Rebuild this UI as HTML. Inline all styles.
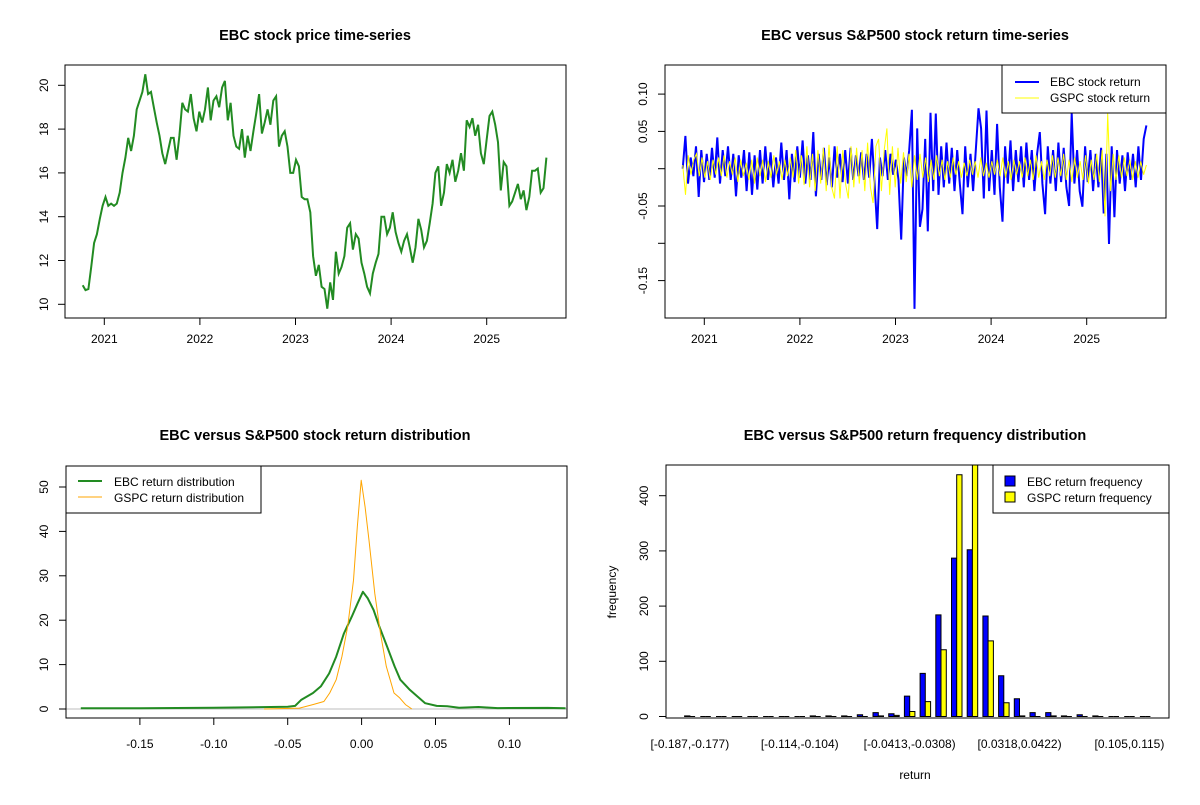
<!DOCTYPE html>
<html><head><meta charset="utf-8"><style>
body{margin:0;background:#fff}
svg text{font-family:"Liberation Sans",Arial,sans-serif}
.t{font-weight:bold;font-size:14.5px}
.k{font-size:12px}
</style></head><body>
<svg id="s" width="1200" height="800" xmlns="http://www.w3.org/2000/svg">
<rect width="1200" height="800" fill="#fff"/>
</svg>
<script>
// ---- data ----
const priceStart = 2020.774, priceEnd = 2025.624;
const priceValues = [10.87,10.65,10.7,11.7,12.8,13.2,13.9,14.5,14.9,14.5,14.6,14.5,14.6,15.1,16.0,16.7,17.6,17.0,17.7,18.9,19.3,19.7,20.5,19.6,19.7,19.0,18.3,17.7,16.9,16.4,17.0,17.6,17.6,16.6,17.7,19.2,18.9,18.8,19.6,18.5,17.9,18.8,18.3,18.9,19.9,18.4,19.3,19.5,19.0,19.9,20.2,18.4,19.2,17.7,17.2,17.1,18.0,16.7,17.7,17.0,17.9,18.7,19.6,17.8,18.3,18.9,18.2,19.3,19.5,17.2,17.7,17.9,17.2,16.0,16.0,16.6,16.3,14.9,14.8,14.8,14.2,12.2,11.3,11.8,10.8,10.7,9.8,11.0,10.2,12.4,11.4,11.7,12.2,13.5,13.7,12.5,13.2,13.0,11.9,11.4,10.8,10.5,11.4,11.9,12.3,14.0,14.0,13.2,13.5,14.2,13.3,12.8,12.4,12.9,13.2,12.6,11.9,12.6,13.9,13.4,12.6,12.9,13.7,14.6,16.0,16.3,14.5,15.1,16.4,16.0,16.6,15.6,16.1,16.9,16.1,18.4,18.1,18.5,17.7,18.2,16.9,16.4,17.5,18.6,18.8,18.2,17.4,15.2,16.5,16.3,14.5,14.7,15.1,15.5,14.8,15.2,14.3,14.9,16.1,16.1,16.2,15.1,15.3,16.7];
const priceYearTicks = [2021,2022,2023,2024,2025];
const priceYTicks = [10,12,14,16,18,20];

const retStart = 2020.774, retEnd = 2025.624;
const ebcReturns = [0.000,0.044,-0.020,0.015,-0.010,0.030,-0.038,0.025,-0.018,0.020,-0.015,0.028,-0.012,0.042,-0.020,0.025,-0.010,0.030,-0.015,0.020,-0.037,0.018,-0.012,0.025,-0.030,0.022,-0.035,0.018,-0.028,0.025,-0.020,0.030,-0.015,0.022,-0.025,0.015,-0.020,0.035,-0.015,0.025,-0.041,0.020,-0.018,0.030,-0.012,0.038,-0.020,0.018,-0.015,0.049,-0.037,0.020,-0.015,0.028,-0.022,0.015,-0.025,0.030,-0.012,0.020,-0.018,0.025,-0.020,0.028,-0.015,0.018,-0.010,0.022,-0.015,0.020,-0.012,0.040,-0.020,-0.081,0.015,-0.010,0.025,-0.015,0.020,-0.008,0.012,-0.015,-0.095,0.015,-0.010,0.025,0.079,-0.188,0.054,-0.078,-0.054,0.040,-0.084,0.075,-0.030,0.074,-0.035,0.030,-0.025,0.035,-0.020,0.028,-0.030,0.025,-0.020,-0.061,0.030,-0.025,0.020,-0.030,0.025,0.081,0.054,-0.040,0.078,-0.030,0.025,-0.035,0.060,-0.025,-0.071,0.030,-0.020,0.038,-0.030,0.025,-0.018,0.030,-0.025,0.035,-0.015,0.025,-0.030,0.020,0.049,-0.020,-0.061,0.030,-0.020,0.025,-0.030,0.035,-0.018,0.028,-0.025,-0.050,0.074,-0.020,0.025,-0.030,-0.051,0.030,-0.018,0.025,-0.030,0.020,-0.025,0.028,-0.060,0.020,-0.101,0.030,-0.065,0.025,-0.020,0.018,-0.030,0.022,-0.015,0.020,-0.025,0.030,-0.015,0.040,0.058];
const gspcReturns = [0.005,-0.035,0.018,-0.008,0.012,0.020,-0.010,0.015,-0.012,0.010,-0.015,0.012,-0.008,0.015,-0.010,0.018,-0.012,0.010,-0.008,0.015,-0.018,0.012,-0.010,0.008,-0.015,0.012,-0.020,0.015,-0.010,0.012,-0.018,0.010,-0.012,0.018,-0.008,0.010,-0.015,0.012,-0.010,0.015,-0.012,0.025,-0.020,0.018,-0.022,0.030,-0.025,0.020,-0.030,0.025,-0.020,0.028,-0.030,0.032,-0.025,-0.040,0.030,-0.040,0.025,-0.020,-0.040,0.030,-0.025,0.028,-0.020,0.025,-0.030,0.035,-0.025,-0.046,0.030,0.040,-0.030,0.025,0.054,-0.035,0.030,-0.025,0.028,-0.020,0.022,-0.018,0.020,-0.025,0.018,-0.015,0.020,-0.012,0.015,-0.018,0.012,-0.015,0.018,-0.010,0.012,-0.015,0.010,-0.012,0.015,-0.008,0.010,-0.012,0.008,-0.010,0.012,-0.008,0.010,-0.012,0.015,-0.010,0.008,-0.012,0.010,-0.008,0.012,-0.010,0.015,-0.012,0.010,-0.015,0.012,-0.008,0.010,-0.012,0.015,-0.010,0.012,-0.015,0.018,-0.012,0.010,-0.015,0.012,-0.010,0.018,-0.012,0.015,-0.010,0.020,-0.015,0.012,-0.018,0.015,-0.012,0.010,-0.015,0.018,-0.020,0.012,-0.015,0.020,-0.018,0.025,-0.064,0.074,-0.030,0.020,-0.015,0.018,-0.012,0.015,-0.010,0.012,-0.015,0.010,-0.012,0.010,-0.008,0.005];
const retYTicks = [0.10,0.05,0,-0.05,-0.10,-0.15];
const retYLabels = ["0.10","0.05","","-0.05","","-0.15"];

const ebcDensX = [-0.19,-0.15,-0.10,-0.05,-0.045,-0.0407,-0.0329,-0.0276,-0.022,-0.0172,-0.012,-0.0066,-0.0027,0.0009,0.0042,0.0081,0.012,0.0172,0.0223,0.0262,0.0327,0.0379,0.043,0.0508,0.058,0.066,0.079,0.092,0.126,0.138];
const ebcDensY = [0.15,0.15,0.3,0.5,0.7,2.1,3.6,5.1,8,11.8,17,20.8,23.8,26.4,24.9,22.3,18.6,14.1,9.6,6.6,4.3,2.8,1.3,0.7,0.6,0.3,0.45,0.2,0.25,0.15];
const gspcDensX = [-0.066,-0.042,-0.033,-0.0255,-0.0216,-0.0172,-0.0133,-0.0094,-0.0055,-0.0029,-0.0003,0.0024,0.005,0.0089,0.0128,0.0167,0.0219,0.0258,0.0297,0.034];
const gspcDensY = [0,0.2,1,1.7,3.6,6.6,11.8,18.6,29,41,51.5,45.5,38,26,17,9.6,3.6,2.5,1,0];
const densXTicks = [-0.15,-0.10,-0.05,0.00,0.05,0.10];
const densXLabels = ["-0.15","-0.10","-0.05","0.00","0.05","0.10"];
const densYTicks = [0,10,20,30,40,50];

const binLabels = ["[-0.187,-0.177)","","","","","","","[-0.114,-0.104)","","","","","","","[-0.0413,-0.0308)","","","","","","","[0.0318,0.0422)","","","","","","","[0.105,0.115)",""];
const ebcFreq = [1,0,0,0,0,0,0,0,1,1,1,3,7,5,37,78,184,287,302,182,74,32,7,7,1,3,1,0,0,0];
const gspcFreq = [0,0,0,0,0,0,0,0,0,0,0,0,1,2,9,27,121,438,470,137,25,1,0,1,0,0,0,0,0,0];
const freqYTicks = [0,100,200,300,400];

// ---- helpers ----
const S = document.getElementById('s');
const NS = 'http://www.w3.org/2000/svg';
function el(tag, attrs, parent){const e=document.createElementNS(NS,tag);for(const k in attrs)e.setAttribute(k,attrs[k]);(parent||S).appendChild(e);return e;}
function txt(str, x, y, cls, anchor, rot){const e=el('text',{x:x,y:y,'class':cls,'text-anchor':anchor||'middle'});if(rot)e.setAttribute('transform','rotate(-90 '+x+' '+y+')');e.textContent=str;return e;}
function lin(d0,d1,r0,r1){return v=>r0+(v-d0)/(d1-d0)*(r1-r0);}
function clip(id,x,y,w,h){const c=el('clipPath',{id:id});el('rect',{x:x,y:y,width:w,height:h},c);}
function box(x0,y0,x1,y1,name){const b=el('rect',{x:x0,y:y0,width:x1-x0,height:y1-y0,fill:'none',stroke:'#000','stroke-width':1});}

// ===== Panel 1: price =====
(function(){
  const L=65,R=566,T=65,B=318;
  const x=lin(2021,2022,104.3,199.9), y=lin(10,20,304.3,85.3);
  clip('c1',L,T,R-L,B-T);
  const n=priceValues.length;
  const pts=priceValues.map((v,i)=>x(priceStart+(priceEnd-priceStart)*i/(n-1)).toFixed(1)+','+y(v).toFixed(1)).join(' ');
  const p=el('polyline',{points:pts,fill:'none',stroke:'#228B22','stroke-width':2,'clip-path':'url(#c1)'});
  
  
  box(L,T,R,B,'price-plot-frame');
  priceYearTicks.forEach(t=>{el('line',{x1:x(t),x2:x(t),y1:B,y2:B+7,stroke:'#000'});const e=txt(String(t),x(t),343,'k');});
  priceYTicks.forEach(t=>{el('line',{x1:L,x2:L-7,y1:y(t),y2:y(t),stroke:'#000'});const e=txt(String(t),48,y(t),'k','middle',true);});
  const ti=txt('EBC stock price time-series',315,40,'t');
  
  
})();

// ===== Panel 2: returns =====
(function(){
  const L=665,R=1166,T=65,B=318;
  const x=lin(2021,2022,704.3,799.9), y=lin(0,0.05,168.7,131.4);
  clip('c2',L,T,R-L,B-T);
  function series(arr,color,w,name){
    const n=arr.length;
    const pts=arr.map((v,i)=>x(retStart+(retEnd-retStart)*i/(n-1)).toFixed(1)+','+y(v).toFixed(1)).join(' ');
    const p=el('polyline',{points:pts,fill:'none',stroke:color,'stroke-width':w,'clip-path':'url(#c2)'});
    
    
  }
  series(ebcReturns,'#0000FF',2,'ebc-return-line');
  series(gspcReturns,'#FFFF00',1,'gspc-return-line');
  box(L,T,R,B,'return-plot-frame');
  priceYearTicks.forEach(t=>{el('line',{x1:x(t),x2:x(t),y1:B,y2:B+7,stroke:'#000'});const e=txt(String(t),x(t),343,'k');});
  retYTicks.forEach((t,i)=>{el('line',{x1:L,x2:L-7,y1:y(t),y2:y(t),stroke:'#000'});if(retYLabels[i]){const e=txt(retYLabels[i],647,y(t),'k','middle',true);}});
  const lg=el('g',{});
  
  
  el('rect',{x:1002,y:65,width:164,height:48,fill:'#fff',stroke:'#000'},lg);
  el('line',{x1:1015,x2:1039,y1:82,y2:82,stroke:'#0000FF','stroke-width':2},lg);
  el('line',{x1:1015,x2:1039,y1:98,y2:98,stroke:'#FFFF00','stroke-width':1},lg);
  const a=el('text',{x:1050,y:86,'class':'k'},lg);a.textContent='EBC stock return';
  const b=el('text',{x:1050,y:102,'class':'k'},lg);b.textContent='GSPC stock return';
  const ti=txt('EBC versus S&P500 stock return time-series',915,40,'t');
  
  
})();

// ===== Panel 3: density =====
(function(){
  const L=66,R=567,T=466,B=718;
  const x=lin(0,0.05,361.6,435.5), y=lin(0,50,709,487);
  clip('c3',L,T,R-L,B-T);
  el('line',{x1:L,x2:R,y1:y(0),y2:y(0),stroke:'#BEBEBE','clip-path':'url(#c3)'});
  function curve(xs,ys,color,w,name){
    const pts=xs.map((v,i)=>x(v).toFixed(1)+','+y(ys[i]).toFixed(1)).join(' ');
    const p=el('polyline',{points:pts,fill:'none',stroke:color,'stroke-width':w,'clip-path':'url(#c3)','stroke-linejoin':'round'});
    
    
  }
  curve(ebcDensX,ebcDensY,'#228B22',2,'ebc-density-line');
  curve(gspcDensX,gspcDensY,'#FFA500',1,'gspc-density-line');
  box(L,T,R,B,'density-plot-frame');
  densXTicks.forEach((t,i)=>{el('line',{x1:x(t),x2:x(t),y1:B,y2:B+7,stroke:'#000'});const e=txt(densXLabels[i],x(t),748,'k');});
  densYTicks.forEach(t=>{el('line',{x1:L,x2:L-7,y1:y(t),y2:y(t),stroke:'#000'});const e=txt(String(t),48,y(t),'k','middle',true);});
  const lg=el('g',{});
  
  
  el('rect',{x:66,y:466,width:195,height:47,fill:'#fff',stroke:'#000'},lg);
  el('line',{x1:78,x2:102,y1:481,y2:481,stroke:'#228B22','stroke-width':2},lg);
  el('line',{x1:78,x2:102,y1:497,y2:497,stroke:'#FFA500','stroke-width':1},lg);
  const a=el('text',{x:114,y:486,'class':'k'},lg);a.textContent='EBC return distribution';
  const b=el('text',{x:114,y:502,'class':'k'},lg);b.textContent='GSPC return distribution';
  const ti=txt('EBC versus S&P500 stock return distribution',315,440,'t');
  
  
})();

// ===== Panel 4: histogram =====
(function(){
  const L=666,R=1169,T=465,B=718;
  const n=ebcFreq.length;
  const u0=1-0.04*(3*n-1), u1=3*n+0.04*(3*n-1);
  const x=lin(u0,u1,L,R), y=lin(0,400,716.5,495.7);
  clip('c4',L,T,R-L,B-T);
  function bar(a,b,v,fill){
    const x0=x(a).toFixed(1), x1=x(b).toFixed(1), y0=y(0).toFixed(1), y1=y(v).toFixed(1);
    return el('path',{d:'M'+x0+','+y0+'L'+x0+','+y1+'L'+x1+','+y1+'L'+x1+','+y0+'Z',fill:fill,stroke:'#000','stroke-width':1,'clip-path':'url(#c4)'});
  }
  for(let i=0;i<n;i++){
    const r1=bar(1+3*i,2+3*i,ebcFreq[i],'#0000FF');
    
    
    const r2=bar(2+3*i,3+3*i,gspcFreq[i],'#FFFF00');
    
    
    if(binLabels[i]){const e=txt(binLabels[i],x(2+3*i),748,'k');}
  }
  box(L,T,R,B,'histogram-plot-frame');
  freqYTicks.forEach(t=>{el('line',{x1:L,x2:L-7,y1:y(t),y2:y(t),stroke:'#000'});const e=txt(String(t),648,y(t),'k','middle',true);});
  const yl=txt('frequency',616,592,'k','middle',true);
  
  
  const xl=txt('return',915,779,'k');
  
  
  const lg=el('g',{});
  
  
  el('rect',{x:993,y:465,width:176,height:48,fill:'#fff',stroke:'#000'},lg);
  el('rect',{x:1005,y:476,width:10,height:10,fill:'#0000FF',stroke:'#000'},lg);
  el('rect',{x:1005,y:492,width:10,height:10,fill:'#FFFF00',stroke:'#000'},lg);
  const a=el('text',{x:1027,y:486,'class':'k'},lg);a.textContent='EBC return frequency';
  const b=el('text',{x:1027,y:502,'class':'k'},lg);b.textContent='GSPC return frequency';
  const ti=txt('EBC versus S&P500 return frequency distribution',915,440,'t');
  
  
})();
</script>
</body></html>
